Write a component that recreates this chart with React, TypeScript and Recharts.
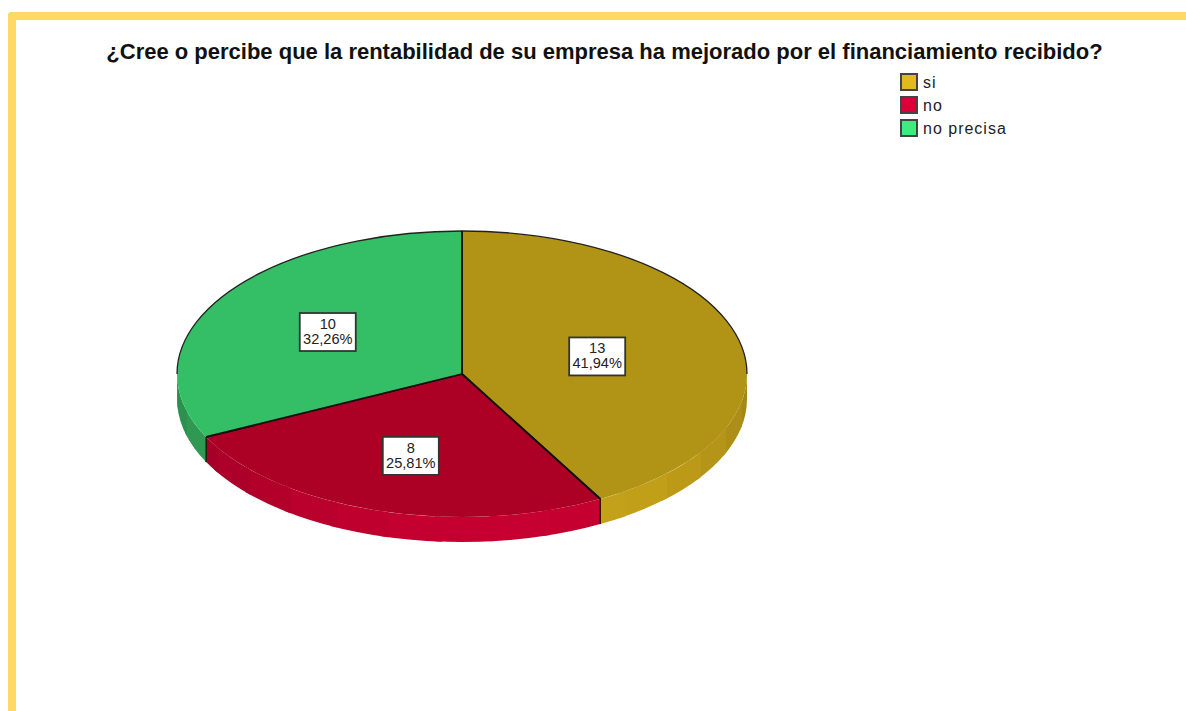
import React from "react";
import { PieChart, Pie, Legend } from "recharts";

const CHART_TITLE = "¿Cree o percibe que la rentabilidad de su empresa ha mejorado por el financiamiento recibido?";
const categories = ["si", "no", "no precisa"];
const counts = [13, 8, 10];

const TOP_COLORS = ["#B19416", "#AC0024", "#34BE66"];
const SIDE_COLORS = [[200, 164, 26], [198, 0, 48], [58, 190, 104]];
const LEGEND_COLORS = ["#E2BA1E", "#DC0038", "#3EEB7E"];
const LABEL_RADIUS_FACTOR = [0.49, 0.6, 0.555];

const FONT = "'Liberation Sans', Arial, sans-serif";
const SQUASH = 143 / 285;
const DEPTH = 25;
const tableRows = categories.map((name, i) => ({ name, value: counts[i], fill: TOP_COLORS[i] }));

const pt = (cx: number, cy: number, rx: number, ry: number, deg: number) => {
  const r = (deg * Math.PI) / 180;
  return [cx + rx * Math.cos(r), cy - ry * Math.sin(r)];
};

function EllipticSector(props: any) {
  const { cx, cy, outerRadius, startAngle, endAngle, fill, value, percent, index, midAngle } = props;
  const rx = outerRadius;
  const ry = outerRadius * SQUASH;
  const [x1, y1] = pt(cx, cy, rx, ry, startAngle);
  const [x2, y2] = pt(cx, cy, rx, ry, endAngle);
  const large = Math.abs(startAngle - endAngle) > 180 ? 1 : 0;
  const top = `M${cx},${cy} L${x1},${y1} A${rx},${ry} 0 ${large} 1 ${x2},${y2} Z`;

  // side wall: stepped bands on the front half of the rim, each overlapping the next
  const bands: React.ReactNode[] = [];
  const base = SIDE_COLORS[index];
  const STEP = 11;
  const wallStart = Math.min(startAngle, 0);
  const wallEnd = Math.max(endAngle, -180);
  for (let a = wallStart; a > wallEnd; a -= STEP) {
    const b = Math.max(a - STEP, wallEnd);
    const over = Math.max(b - 1.5, wallEnd);
    const mid = (a + b) / 2;
    const [ax, ay] = pt(cx, cy, rx, ry, a);
    const [bx, by] = pt(cx, cy, rx, ry, over);
    const f = 0.76 + 0.24 * Math.cos(((mid + 80) * Math.PI) / 180);
    const col = `rgb(${base.map((c) => Math.round(c * f)).join(",")})`;
    bands.push(
      <path
        key={a}
        d={`M${ax},${ay} A${rx},${ry} 0 0 1 ${bx},${by} L${bx},${by + DEPTH} A${rx},${ry} 0 0 0 ${ax},${ay + DEPTH} Z`}
        fill={col}
      />
    );
  }
  const edges = [[x1, y1, startAngle], [x2, y2, endAngle]]
    .filter((e) => Math.sin((e[2] * Math.PI) / 180) < -0.01)
    .map((e) => (
      <line key={e[2]} x1={e[0]} y1={e[1]} x2={e[0]} y2={e[1] + DEPTH} stroke="#2a1c08" strokeWidth={1.4} />
    ));

  // back rim only: the part of this sector's arc on the upper half of the ellipse
  const backStart = startAngle;
  const backEnd = Math.max(endAngle, index === 0 ? 0 : -270);
  const showBack = index === 0 || endAngle < -180;
  const backFrom = index === 0 ? backStart : -180;
  const [bfx, bfy] = pt(cx, cy, rx, ry, backFrom);
  const [btx, bty] = pt(cx, cy, rx, ry, backEnd);

  const k = LABEL_RADIUS_FACTOR[index];
  const [lx, ly] = pt(cx, cy, rx * k, ry * k, midAngle);
  const pctText = (percent * 100).toFixed(2).replace(".", ",") + "%";
  const boxW = 56;
  const boxH = 38;
  return (
    <g>
      {bands}
      {edges}
      <path d={top} fill={fill} stroke="none" />
      {showBack && (
        <path d={`M${bfx},${bfy} A${rx},${ry} 0 0 1 ${btx},${bty}`} fill="none" stroke="#222" strokeWidth={1.3} />
      )}
      <line x1={cx} y1={cy} x2={x1} y2={y1} stroke="#111" strokeWidth={1.8} />
      <line x1={cx} y1={cy} x2={x2} y2={y2} stroke="#111" strokeWidth={1.8} />
      <rect x={lx - boxW / 2} y={ly - boxH / 2} width={boxW} height={boxH} fill="#fff" stroke="#333" strokeWidth={1.8} />
      <text x={lx} y={ly - 3} textAnchor="middle" fontFamily={FONT} fontSize={14.6} fill="#222">
        {value}
      </text>
      <text x={lx} y={ly + 12} textAnchor="middle" fontFamily={FONT} fontSize={14.6} fill="#222">
        {pctText}
      </text>
    </g>
  );
}

function LegendBlock() {
  return (
    <div style={{ fontFamily: FONT }}>
      {categories.map((c, i) => (
        <div key={c} style={{ display: "flex", alignItems: "center", height: 23 }}>
          <span
            style={{
              display: "inline-block",
              boxSizing: "border-box",
              width: 18,
              height: 18,
              background: LEGEND_COLORS[i],
              border: "2px solid #444",
              marginRight: 4,
            }}
          />
          <span style={{ fontSize: 16, color: "#222", letterSpacing: 1, position: "relative", top: 1, left: 1 }}>{c}</span>
        </div>
      ))}
    </div>
  );
}

export default function App() {
  return (
    <div style={{ position: "fixed", left: 0, top: 0, width: 1186, height: 711, background: "#fff", overflow: "hidden" }}>
      <div
        style={{
          position: "absolute",
          left: 8,
          top: 12,
          width: 1200,
          height: 720,
          boxSizing: "border-box",
          borderTop: "8px solid #FFD966",
          borderLeft: "8px solid #FFD966",
          borderTopLeftRadius: 4,
        }}
      />
      <div
        style={{
          position: "absolute",
          left: 0,
          top: 39,
          width: 1209,
          textAlign: "center",
          fontFamily: FONT,
          fontWeight: "bold",
          fontSize: 22,
          color: "#111",
          whiteSpace: "nowrap",
        }}
      >
        {CHART_TITLE}
      </div>
      <PieChart width={1186} height={711} margin={{ top: 0, right: 0, bottom: 0, left: 0 }} style={{ position: "absolute", left: 0, top: 0 }}>
        <Pie
          data={tableRows}
          dataKey="value"
          nameKey="name"
          cx={462}
          cy={374}
          outerRadius={285}
          startAngle={90}
          endAngle={-270}
          isAnimationActive={false}
          shape={EllipticSector}
        />
        <Legend
          content={<LegendBlock />}
          wrapperStyle={{ position: "absolute", left: 900, top: 70, width: 200, bottom: "auto", right: "auto" }}
        />
      </PieChart>
    </div>
  );
}
